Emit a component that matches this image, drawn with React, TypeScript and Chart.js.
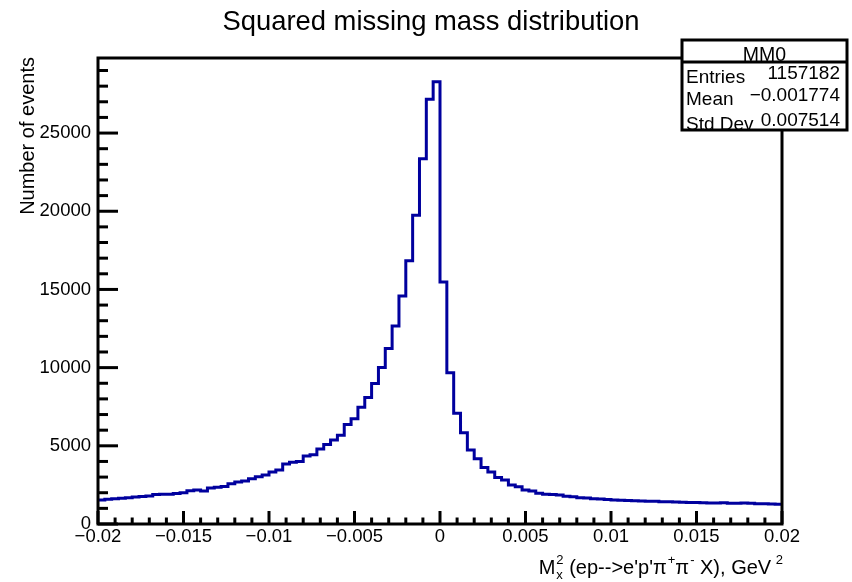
import React, { useEffect, useRef } from 'react';
import { Chart, registerables } from 'chart.js';

Chart.register(...registerables);

// ---- data ----
const xMin = -0.02;
const xMax = 0.02;
const binWidth = 0.0004;
const yMax = 29800;

// 100 bins of 0.0004 from -0.02 to 0.02
const counts = [
  1540, 1580, 1620, 1650, 1680, 1720, 1760, 1790, 1880, 1900,
  1900, 1950, 2000, 2130, 2170, 2110, 2300, 2350, 2400, 2580,
  2680, 2750, 2900, 3020, 3130, 3330, 3450, 3840, 3950, 4000,
  4350, 4430, 4800, 5090, 5370, 5680, 6360, 6730, 7470, 8090,
  8980, 10000, 11220, 12660, 14580, 16840, 19740, 23360, 27170, 28280,
  15470, 9670, 7080, 5840, 4730, 4180, 3620, 3320, 2980, 2810,
  2490, 2390, 2170, 2110, 1960, 1900, 1880, 1850, 1780, 1750,
  1680, 1660, 1620, 1600, 1560, 1540, 1520, 1500, 1490, 1470,
  1460, 1450, 1430, 1420, 1400, 1390, 1380, 1370, 1360, 1350,
  1340, 1360, 1330, 1320, 1350, 1330, 1300, 1290, 1280, 1270,
];

const xMajorTicks = [-0.02, -0.015, -0.01, -0.005, 0, 0.005, 0.01, 0.015, 0.02];
const xTickLabels = ['\u22120.02', '\u22120.015', '\u22120.01', '\u22120.005', '0', '0.005', '0.01', '0.015', '0.02'];
const yMajorTicks = [0, 5000, 10000, 15000, 20000, 25000];
const yTickLabels = ['0', '5000', '10000', '15000', '20000', '25000'];

const chartTitle = 'Squared missing mass distribution';
const yAxisTitle = 'Number of events';
const statsName = 'MM0';
const statsLabels = ['Entries', 'Mean', 'Std Dev'];
const statsValues = ['1157182', '\u22120.001774', '0.007514'];

const FONT = '"Liberation Sans", Helvetica, Arial, sans-serif';
const LINE_COLOR = 'rgb(0,0,158)';

const rootPlugin = {
  id: 'rootStyle',
  afterDraw(chart: any) {
    const ctx: CanvasRenderingContext2D = chart.ctx;
    const { left, right, top, bottom } = chart.chartArea;
    const xs = chart.scales.x;
    const ys = chart.scales.y;
    ctx.save();
    ctx.strokeStyle = '#000';
    ctx.fillStyle = '#000';
    ctx.lineWidth = 3;
    ctx.lineCap = 'butt';

    // frame
    ctx.strokeRect(left, top, right - left, bottom - top);

    const line = (x1: number, y1: number, x2: number, y2: number) => {
      ctx.beginPath();
      ctx.moveTo(x1, y1);
      ctx.lineTo(x2, y2);
      ctx.stroke();
    };
    // x ticks
    for (let k = -20; k <= 20; k++) {
      const px = xs.getPixelForValue(k * 0.001);
      const len = k % 5 === 0 ? 13 : 6.5;
      line(px, bottom, px, bottom - len);
    }
    // y ticks
    for (let k = 0; k <= 29; k++) {
      const py = ys.getPixelForValue(k * 1000);
      const len = k % 5 === 0 ? 20 : 10;
      line(left, py, left + len, py);
    }

    // tick labels
    ctx.font = `18.5px ${FONT}`;
    ctx.textAlign = 'center';
    ctx.textBaseline = 'alphabetic';
    xMajorTicks.forEach((v, i) => {
      ctx.fillText(xTickLabels[i], xs.getPixelForValue(v), bottom + 18);
    });
    ctx.textAlign = 'right';
    ctx.textBaseline = 'middle';
    yMajorTicks.forEach((v, i) => {
      ctx.fillText(yTickLabels[i], left - 7, ys.getPixelForValue(v));
    });

    // main title
    ctx.font = `27.4px ${FONT}`;
    ctx.textAlign = 'center';
    ctx.textBaseline = 'alphabetic';
    ctx.fillText(chartTitle, 431, 30);

    // y axis title
    ctx.save();
    ctx.font = `20px ${FONT}`;
    ctx.translate(34, top - 1);
    ctx.rotate(-Math.PI / 2);
    ctx.textAlign = 'right';
    ctx.textBaseline = 'alphabetic';
    ctx.fillText(yAxisTitle, 0, 0);
    ctx.restore();

    // x axis title with sub/superscripts
    const f = 20;
    const sf = 13;
    const parts: { t: string; kind: 'n' | 'sup' | 'supsub'; sub?: string }[] = [
      { t: 'M', kind: 'n' },
      { t: '2', kind: 'supsub', sub: 'x' },
      { t: ' (ep-->e\'p\'\u03c0', kind: 'n' },
      { t: '+', kind: 'sup' },
      { t: '\u03c0', kind: 'n' },
      { t: '-', kind: 'sup' },
      { t: ' X), GeV', kind: 'n' },
      { t: ' 2', kind: 'sup' },
    ];
    const widthOf = (p: any) => {
      if (p.kind === 'n') {
        ctx.font = `${f}px ${FONT}`;
        return ctx.measureText(p.t).width;
      }
      ctx.font = `${sf}px ${FONT}`;
      const w1 = ctx.measureText(p.t).width;
      const w2 = p.sub ? ctx.measureText(p.sub).width : 0;
      return Math.max(w1, w2) + 1;
    };
    const total = parts.reduce((s, p) => s + widthOf(p), 0);
    let cx = right + 1 - total;
    const base = 574;
    ctx.textAlign = 'left';
    ctx.textBaseline = 'alphabetic';
    parts.forEach((p) => {
      const w = widthOf(p);
      if (p.kind === 'n') {
        ctx.font = `${f}px ${FONT}`;
        ctx.fillText(p.t, cx, base);
      } else {
        ctx.font = `${sf}px ${FONT}`;
        ctx.fillText(p.t, cx + 1, base - 10);
        if (p.sub) ctx.fillText(p.sub, cx + 1, base + 5);
      }
      cx += w;
    });

    // stats box
    const bx1 = 682, bx2 = 847, by1 = 40, by2 = 130, sep = 62;
    ctx.fillStyle = '#fff';
    ctx.fillRect(bx1, by1, bx2 - bx1, by2 - by1);
    ctx.fillStyle = '#000';
    ctx.font = `19.5px ${FONT}`;
    ctx.textAlign = 'center';
    ctx.fillText(statsName, (bx1 + bx2) / 2, 61);
    ctx.font = `19px ${FONT}`;
    const rowBase = [83, 105, 130];
    statsLabels.forEach((lab, i) => {
      ctx.textAlign = 'left';
      ctx.fillText(lab, bx1 + 4, rowBase[i]);
      ctx.textAlign = 'right';
      ctx.fillText(statsValues[i], bx2 - 7, rowBase[i] - 4);
    });
    ctx.lineWidth = 3;
    ctx.strokeRect(bx1, by1, bx2 - bx1, by2 - by1);
    line(bx1, sep, bx2, sep);

    ctx.restore();
  },
};

export default function App() {
  const ref = useRef<HTMLCanvasElement | null>(null);
  useEffect(() => {
    if (!ref.current) return;
    const points = counts.map((c, i) => ({ x: xMin + i * binWidth, y: c }));
    points.push({ x: xMax, y: counts[counts.length - 1] });
    const chart = new Chart(ref.current, {
      type: 'line',
      data: {
        datasets: [
          {
            data: points,
            stepped: 'before',
            borderColor: LINE_COLOR,
            borderWidth: 3,
            pointRadius: 0,
            fill: false,
          } as any,
        ],
      },
      options: {
        responsive: false,
        animation: false,
        layout: { padding: { left: 98, right: 70, top: 58, bottom: 58 } },
        plugins: { legend: { display: false }, title: { display: false }, tooltip: { enabled: false } },
        scales: {
          x: { type: 'linear', min: xMin, max: xMax, display: false },
          y: { type: 'linear', min: 0, max: yMax, display: false },
        },
      },
      plugins: [rootPlugin],
    });
    return () => chart.destroy();
  }, []);
  return (
    <div style={{ position: 'fixed', left: 0, top: 0, width: 852, height: 582, background: '#fff' }}>
      <canvas ref={ref} width={852} height={582} />
    </div>
  );
}
